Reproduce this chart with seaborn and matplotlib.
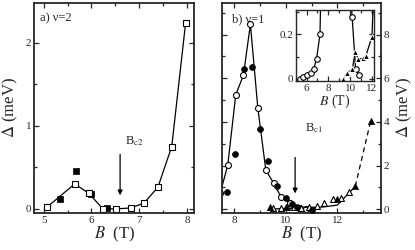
import numpy as np
import pandas as pd

import seaborn as sns
import matplotlib.pyplot as plt
from matplotlib.ticker import MultipleLocator, FuncFormatter


# panel a) nu = 2
a_open_B = [5.07, 5.65, 5.94, 6.24, 6.51, 6.82, 7.10, 7.39, 7.68, 7.97]
a_open_gap = [0.02, 0.30, 0.19, 0.0, 0.0, 0.01, 0.07, 0.26, 0.75, 2.24]
a_fill_B = [5.35, 5.67, 5.99, 6.32]
a_fill_gap = [0.12, 0.45, 0.18, 0.01]

# panel b) nu = 1
b_circ_B = [5.38, 5.69, 6.06, 6.40, 6.67, 6.92, 7.23, 7.45, 7.74, 8.05, 8.35,
            8.62, 8.91, 9.22, 9.52, 9.82, 10.18, 10.50, 10.80]
b_circ_gap = [0.0, 0.01, 0.018, 0.025, 0.047, 0.092, 0.20, 0.75, 2.03, 5.24,
              6.15, 8.47, 4.63, 1.80, 1.20, 0.55, 0.28, 0.045, 0.02]
b_dot_B = [7.70, 8.03, 8.38, 8.68, 9.01, 9.32, 9.67, 10.0, 10.22, 10.45, 11.0]
b_dot_gap = [0.78, 2.53, 6.41, 6.53, 3.66, 2.23, 1.07, 0.50, 0.25, 0.12, -0.02]
b_tri_B = [9.50, 9.80, 10.05, 10.30, 10.60, 10.90, 11.20, 11.50, 11.85, 12.15,
           12.45]
b_tri_gap = [0.05, 0.08, 0.10, 0.10, 0.08, 0.10, 0.17, 0.27, 0.45, 0.50, 0.80]
b_ftri_B = [9.38, 9.69, 10.21, 10.46, 10.76, 11.14, 11.45, 12.0, 12.7]
b_ftri_gap = [0.0, 0.025, 0.045, 0.12, 0.09, 0.093, 0.105, 0.19, 1.05]
b_ext_B = [12.7, 13.3]
b_ext_gap = [1.05, 4.05]
b_big_B = [9.38, 10.0, 12.0, 12.7, 13.3]
b_big_gap = [0.09, 0.10, 0.45, 1.05, 4.05]

sns.set_style("ticks")
plt.rcParams["font.family"] = ["Liberation Serif", "DejaVu Serif"]
plt.rcParams["mathtext.fontset"] = "stix"
plt.rcParams["axes.linewidth"] = 1.3
plt.rcParams["xtick.direction"] = "in"
plt.rcParams["ytick.direction"] = "in"

fig = plt.figure(figsize=(4.15, 2.5), dpi=100)
ax_a = fig.add_axes([0.082, 0.148, 0.386, 0.84])
ax_b = fig.add_axes([0.534, 0.148, 0.384, 0.84])
ax_in = fig.add_axes([0.7125, 0.677, 0.189, 0.283])

open_kw = dict(color="black", lw=0.9, markerfacecolor="white",
               markeredgecolor="black", markeredgewidth=0.8)
fill_kw = dict(color="black", edgecolor="black", linewidth=0.5)


def style(ax, xmaj, xmin, ymaj, ymin, size=8):
    ax.xaxis.set_major_locator(MultipleLocator(xmaj))
    ax.xaxis.set_minor_locator(MultipleLocator(xmin))
    ax.yaxis.set_major_locator(MultipleLocator(ymaj))
    ax.yaxis.set_minor_locator(MultipleLocator(ymin))
    ax.tick_params(which="both", top=True, right=True, left=True,
                   bottom=True, labelsize=size, width=0.9, pad=2)
    ax.tick_params(which="major", length=3.5)
    ax.tick_params(which="minor", length=2)


# ---- panel a ----
df_a = pd.DataFrame({"B": a_open_B, "gap": a_open_gap})
sns.lineplot(data=df_a, x="B", y="gap", marker="s", markersize=4,
             ax=ax_a, **open_kw)
sns.scatterplot(x=a_fill_B, y=a_fill_gap, marker="s", s=20, ax=ax_a,
                **fill_kw)
ax_a.set_xlim(4.8, 8.15)
ax_a.set_ylim(-0.05, 2.48)
style(ax_a, 1, 0.5, 1, 0.5)
ax_a.set_xlabel(r"$B$  (T)", fontsize=12, labelpad=0)
ax_a.set_ylabel(r"$\Delta$ (meV)", fontsize=12, labelpad=4)
ax_a.text(4.93, 2.3, "a) ν=2", fontsize=9, va="center")
ax_a.annotate("", xy=(6.6, 0.13), xytext=(6.6, 0.69),
              arrowprops=dict(arrowstyle="-|>", color="black", lw=0.9,
                              mutation_scale=7))
ax_a.text(6.7, 0.73, r"B$_{\rm c2}$", fontsize=9, va="bottom")

# ---- panel b ----
df_c = pd.DataFrame({"B": b_circ_B, "gap": b_circ_gap})
df_t = pd.DataFrame({"B": b_ftri_B, "gap": b_ftri_gap})
sns.lineplot(data=df_c, x="B", y="gap", marker="o", markersize=4.3,
             ax=ax_b, **open_kw)
sns.lineplot(data=df_t, x="B", y="gap", color="black", lw=0.9, ax=ax_b)
sns.lineplot(x=b_ext_B, y=b_ext_gap, color="black", lw=0.9,
             linestyle=(0, (4, 3)), ax=ax_b)
sns.scatterplot(x=b_tri_B, y=b_tri_gap, marker="^", s=18, color="white",
                edgecolor="black", linewidth=0.8, ax=ax_b, zorder=3)
sns.scatterplot(x=b_dot_B, y=b_dot_gap, marker="o", s=18, ax=ax_b,
                zorder=3, **fill_kw)
sns.scatterplot(x=b_big_B, y=b_big_gap, marker="^", s=20, ax=ax_b,
                zorder=4, **fill_kw)
ax_b.set_xlim(7.5, 13.7)
ax_b.set_ylim(-0.17, 9.45)
style(ax_b, 2, 1, 2, 1)
ax_b.yaxis.tick_right()
ax_b.yaxis.set_label_position("right")
ax_b.tick_params(which="both", left=True, labelleft=False)
ax_b.set_xlabel(r"$B$  (T)", fontsize=12, labelpad=0)
ax_b.set_ylabel(r"$\Delta$ (meV)", fontsize=12, labelpad=4)
ax_b.text(7.9, 8.7, "b) ν=1", fontsize=9, va="center")
ax_b.annotate("", xy=(10.36, 0.6), xytext=(10.36, 2.5),
              arrowprops=dict(arrowstyle="-|>", color="black", lw=0.9,
                              mutation_scale=7))
ax_b.text(10.75, 3.7, r"B$_{\rm c1}$", fontsize=9, va="center")

# ---- inset ----
sns.lineplot(data=df_c, x="B", y="gap", marker="o", markersize=4,
             ax=ax_in, **open_kw)
sns.lineplot(data=df_t, x="B", y="gap", marker="^", markersize=4.5,
             color="black", lw=0.9, ax=ax_in)
ax_in.set_xlim(5.0, 12.2)
ax_in.set_ylim(-0.008, 0.31)
style(ax_in, 2, 1, 0.2, 0.1, size=8)
ax_in.yaxis.set_major_formatter(FuncFormatter(lambda v, p: f"{v:g}"))
ax_in.set_xlabel(r"$B$ (T)", fontsize=10, labelpad=0)
ax_in.set_ylabel("")
for sp in ax_in.spines.values():
    sp.set_linewidth(1.0)

plt.savefig("out.png", dpi=100)
plt.close()
